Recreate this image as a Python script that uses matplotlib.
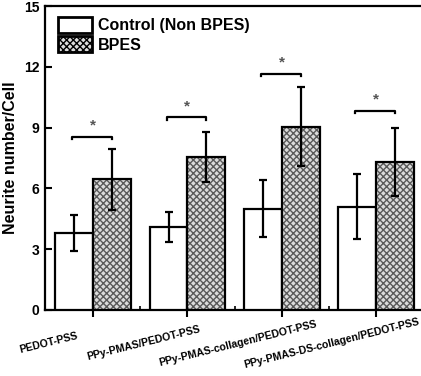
import matplotlib
matplotlib.use('Agg')
import matplotlib.pyplot as plt
import numpy as np
from matplotlib.patches import Patch

plt.rcParams['font.family'] = ['Liberation Sans', 'DejaVu Sans']
plt.rcParams['font.weight'] = 'bold'

# datos
grupos = ['PEDOT-PSS', 'PPy-PMAS/PEDOT-PSS', 'PPy-PMAS-collagen/PEDOT-PSS',
          'PPy-PMAS-DS-collagen/PEDOT-PSS']
control = [3.8, 4.1, 5.0, 5.1]
control_err = [0.9, 0.75, 1.42, 1.6]
bpes = [6.45, 7.55, 9.05, 7.3]
bpes_err = [1.5, 1.25, 1.93, 1.68]
bracket_y = [8.55, 9.5, 11.65, 9.82]

fig = plt.figure(figsize=(4.21, 3.76), dpi=100)
ax = fig.add_axes([0.107, 0.176, 0.903, 0.808])

x = np.arange(len(grupos))
w = 0.4

ax.bar(x - w / 2, control, w, color='white', edgecolor='black', linewidth=1.6,
       zorder=3)
# relleno con trama gris y despues borde negro
ax.bar(x + w / 2, bpes, w, color='#dcdcdc', edgecolor='#5a5a5a', hatch='xxxxx',
       linewidth=0, zorder=3)
ax.bar(x + w / 2, bpes, w, fill=False, edgecolor='black', linewidth=1.6, zorder=4)

ax.errorbar(x - w / 2, control, yerr=control_err, fmt='none', ecolor='black',
            elinewidth=1.6, capsize=3, capthick=1.6, zorder=5)
ax.errorbar(x + w / 2, bpes, yerr=bpes_err, fmt='none', ecolor='black',
            elinewidth=1.6, capsize=3, capthick=1.6, zorder=5)

# corchetes de significancia
for i, yb in enumerate(bracket_y):
    x0, x1 = i - w / 2 - 0.02, i + w / 2
    ax.plot([x0, x0, x1, x1], [yb - 0.12, yb, yb, yb - 0.12], color='black',
            linewidth=1.6, zorder=5)
    ax.text(i, yb + 0.2, '*', ha='center', va='bottom', fontsize=11,
            color='#555555')

# leyenda con parches propios
h1 = Patch(facecolor='white', edgecolor='black', linewidth=2.0)
h2 = Patch(facecolor='#dcdcdc', edgecolor='black', hatch='xxxxx', linewidth=2.0)
ax.legend([h1, h2], ['Control (Non BPES)', 'BPES'], loc='upper left',
          frameon=False, fontsize=11.5, handlelength=2.1, handleheight=1.1,
          borderaxespad=0.3, handletextpad=0.4, labelspacing=0.2,
          bbox_to_anchor=(0.005, 1.0))

ax.set_xlim(-0.509, 3.52)
ax.set_ylim(0, 15)
ax.set_yticks([0, 3, 6, 9, 12, 15])
ax.tick_params(axis='y', direction='in', length=5, width=1.5, labelsize=10,
               pad=4)
ax.set_xticks(x)
ax.set_xticks(x[:-1] + 0.5, minor=True)
ax.tick_params(axis='x', which='major', direction='out', length=5, width=1.5,
               labelbottom=False)
ax.tick_params(axis='x', which='minor', direction='in', length=3, width=1.2)
ax.set_ylabel('Neurite number/Cell', fontsize=11.5, fontweight='bold', labelpad=4)

for i, g in enumerate(grupos):
    ax.text(i - 0.47, -0.11, g, transform=ax.get_xaxis_transform(),
            ha='center', va='center', rotation=14, fontsize=7.6, fontweight='bold')

for s in ax.spines.values():
    s.set_linewidth(1.6)

fig.savefig('out.png', dpi=100, facecolor='white')
